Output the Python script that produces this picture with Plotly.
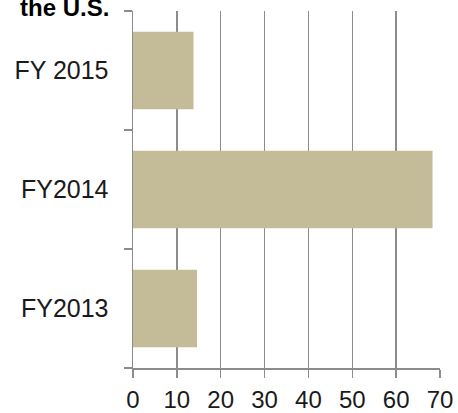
import plotly.graph_objects as go

categories = ["FY2013", "FY2014", "FY 2015"]
values = [14.6, 68.3, 13.8]
x_ticks = [0, 10, 20, 30, 40, 50, 60, 70]
title_text = "the U.S."

line_col = "#8c8c8c"
font_family = "Liberation Sans, Arial, sans-serif"

fig = go.Figure(go.Bar(
    x=values, y=categories, orientation="h",
    marker=dict(color="#c4bc98", line=dict(width=0)),
    hoverinfo="skip",
))

fig.update_layout(
    width=458, height=413,
    margin=dict(l=133, r=18, t=11, b=45, pad=0, autoexpand=False),
    paper_bgcolor="white", plot_bgcolor="white",
    bargap=0.35,
    showlegend=False,
    font=dict(family=font_family, size=25, color="#1a1a1a"),
)

fig.update_xaxes(
    range=[0, 70], tickvals=x_ticks, ticktext=[str(v) for v in x_ticks],
    showgrid=True, gridcolor=line_col, gridwidth=1.5,
    zeroline=False,
    showline=True, linecolor=line_col, linewidth=1.5,
    ticks="outside", ticklen=8, tickwidth=1.5, tickcolor=line_col,
    tickfont=dict(size=24, color="#1a1a1a"),
    ticklabelstandoff=2,
    ticklabeloverflow="allow",
    automargin=False,
    fixedrange=True,
)
fig.update_yaxes(
    type="category", categoryorder="array", categoryarray=categories,
    tickson="boundaries",
    showgrid=False, zeroline=False,
    showline=True, linecolor=line_col, linewidth=1.5,
    ticks="outside", ticklen=8, tickwidth=1.5, tickcolor=line_col,
    tickfont=dict(size=25, color="#1a1a1a"),
    ticklabelstandoff=18,
    automargin=False,
    fixedrange=True,
)

fig.add_annotation(
    text="<b>" + title_text + "</b>",
    xref="paper", yref="paper",
    x=-0.3746, y=0.9664, xanchor="left", yanchor="bottom",
    showarrow=False,
    font=dict(family=font_family, size=24, color="#000000"),
)

# remove the default 8px page margin so the figure fills the window exactly
fig.write_html(
    "out.html",
    config={"displayModeBar": False, "staticPlot": True},
    post_script="document.body.style.margin='0';document.body.style.overflow='hidden';",
)
